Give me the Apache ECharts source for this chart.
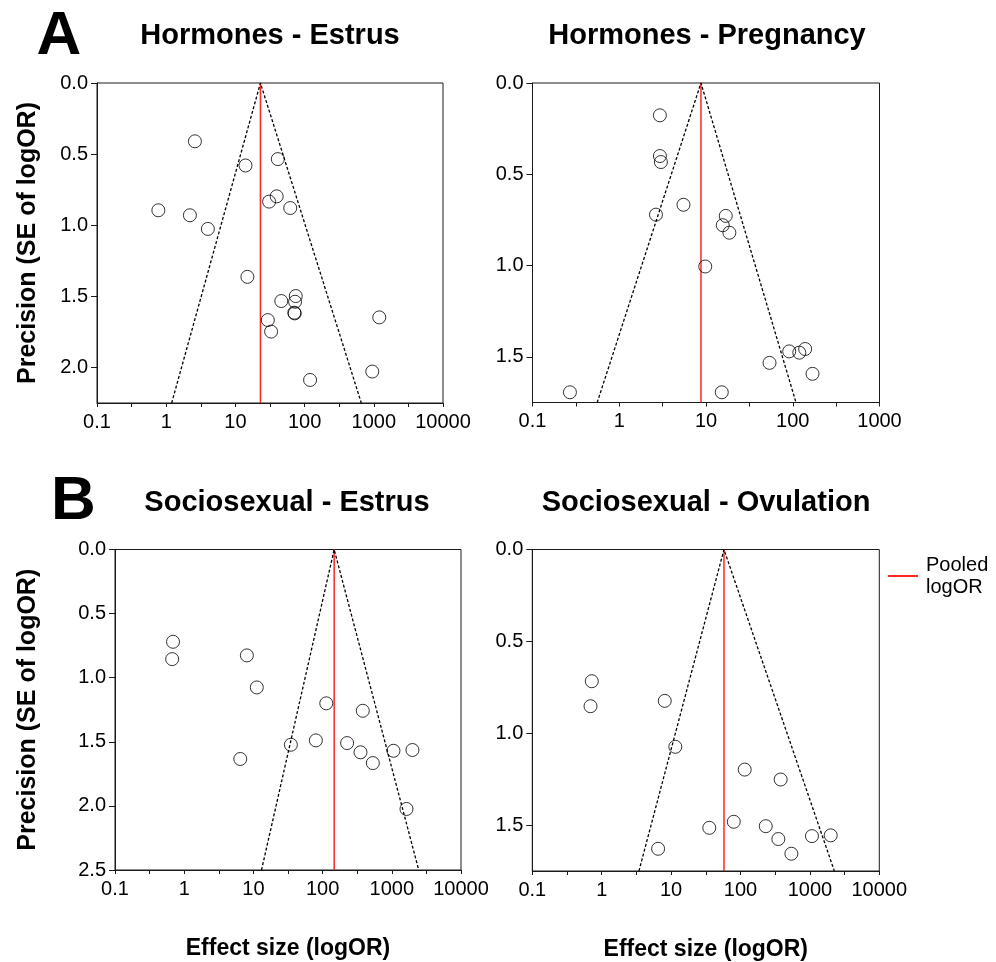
<!DOCTYPE html>
<html><head><meta charset="utf-8">
<script src="https://cdn.jsdelivr.net/npm/echarts@6/dist/echarts.min.js"></script>
<style>html,body{margin:0;padding:0;background:#fff}#c{width:996px;height:962px}</style>
</head><body><div id="c"></div>
<script>
const FONT = '"Liberation Sans", Arial, Helvetica, sans-serif';
const panelTitles = ['Hormones - Estrus', 'Hormones - Pregnancy', 'Sociosexual - Estrus', 'Sociosexual - Ovulation'];
const panelLetters = ['A', 'B'];
const yAxisTitle = 'Precision (SE of logOR)';
const xAxisTitle = 'Effect size (logOR)';
const legendName = 'Pooled\nlogOR';

// Hormones - Estrus
const hormEstrusES = [2.6, 14, 41, 0.77, 2.2, 4.0, 30.7, 39.5, 62, 14.9, 46, 74.5, 72.8, 71, 72, 29.4, 32.8, 1200, 950, 120];
const hormEstrusSE = [0.41, 0.58, 0.535, 0.895, 0.93, 1.026, 0.834, 0.797, 0.879, 1.363, 1.533, 1.498, 1.538, 1.615, 1.62, 1.667, 1.748, 1.648, 2.029, 2.088];
// Hormones - Pregnancy
const hormPregES = [2.94, 2.94, 3.02, 5.5, 2.65, 16.9, 15.6, 18.6, 9.8, 54, 91, 119, 139, 169, 0.27, 15.2];
const hormPregSE = [0.177, 0.40, 0.433, 0.667, 0.721, 0.728, 0.779, 0.82, 1.005, 1.533, 1.47, 1.477, 1.457, 1.593, 1.694, 1.694];
// Sociosexual - Estrus
const sociEstrusES = [0.69, 0.67, 8.05, 11.2, 113, 381, 34.8, 80, 226, 353, 532, 1057, 1988, 6.46, 1630];
const sociEstrusSE = [0.72, 0.855, 0.826, 1.076, 1.20, 1.258, 1.523, 1.489, 1.51, 1.582, 1.666, 1.57, 1.564, 1.634, 2.024];
// Sociosexual - Ovulation
const sociOvES = [0.72, 0.69, 8.1, 11.5, 115, 379, 35.5, 80, 231, 351, 541, 1070, 1995, 6.5];
const sociOvSE = [0.717, 0.853, 0.824, 1.074, 1.198, 1.252, 1.515, 1.482, 1.506, 1.576, 1.656, 1.56, 1.556, 1.629];

const pooledOR = [23, 8.75, 147, 57.8];
const funnelLowOR = [1.2, 0.557, 13.1, 3.44];
const funnelHighOR = [660, 109, 2450, 2250];
const xMin = [0.1, 0.1, 0.1, 0.1];
const xMax = [10000, 1000, 10000, 10000];
const yMax = [2.25, 1.75, 2.5, 1.75];

const panelES = [hormEstrusES, hormPregES, sociEstrusES, sociOvES];
const panelSE = [hormEstrusSE, hormPregSE, sociEstrusSE, sociOvSE];

const grids = [
  {left: 97, top: 83, width: 346, height: 320},
  {left: 532.5, top: 83, width: 347, height: 319.5},
  {left: 115, top: 549.5, width: 346, height: 320.5},
  {left: 532.3, top: 549.5, width: 347, height: 321.5}
];
const yNameGap = [56, 0, 74, 0];
const titlePos = [[270, 36], [707, 36], [287, 503], [706, 503]];
const letterPos = [[59, 37], [73.5, 502]];

const RED = '#ff2626';
const AXC = '#1a1a1a';

const option = {
  animation: false,
  backgroundColor: '#fff',
  textStyle: {fontFamily: FONT},
  grid: grids.map(g => Object.assign({show: true, borderColor: AXC, borderWidth: 1, backgroundColor: 'transparent', containLabel: false}, g)),
  xAxis: [],
  yAxis: [],
  series: [],
  legend: {
    data: [{name: legendName, icon: 'rect'}],
    left: 883, top: 549, itemWidth: 30, itemHeight: 2, selectedMode: false,
    textStyle: {fontFamily: FONT, fontSize: 20, lineHeight: 22, color: '#000', padding: [0, 0, 0, 3]}
  },
  graphic: []
};

for (let i = 0; i < 4; i++) {
  const bottomRow = i >= 2;
  const leftCol = i % 2 === 0;
  // main log axis (labels, line)
  option.xAxis.push({
    type: 'log', logBase: 10, gridIndex: i, min: xMin[i], max: xMax[i], position: 'bottom',
    axisLine: {show: true, onZero: false, lineStyle: {color: AXC, width: 1}},
    axisTick: {show: false},
    splitLine: {show: false},
    axisLabel: {color: '#000', fontSize: 20, fontFamily: FONT, margin: 9,
      formatter: v => (v < 1 ? (+v).toFixed(1) : String(Math.round(v)))},
    name: bottomRow ? xAxisTitle : '', nameLocation: 'middle', nameGap: 67,
    nameTextStyle: {fontSize: 23, fontWeight: 'bold', color: '#000', fontFamily: FONT}
  });
  // tick-only axis at half decades
  option.xAxis.push({
    type: 'value', gridIndex: i, min: Math.log10(xMin[i]), max: Math.log10(xMax[i]), interval: 0.5, position: 'bottom',
    axisLine: {show: false, onZero: false}, axisLabel: {show: false}, splitLine: {show: false},
    axisTick: {show: true, length: 4, lineStyle: {color: AXC, width: 1}}
  });
  option.yAxis.push({
    type: 'value', gridIndex: i, inverse: true, min: 0, max: yMax[i], interval: 0.5, position: 'left',
    axisLine: {show: true, onZero: false, lineStyle: {color: AXC, width: 1}},
    axisTick: {show: true, length: 6, lineStyle: {color: AXC, width: 1}},
    splitLine: {show: false},
    axisLabel: {color: '#000', fontSize: 20, fontFamily: FONT, margin: 9,
      showMaxLabel: Math.abs(yMax[i] / 0.5 - Math.round(yMax[i] / 0.5)) < 1e-9,
      formatter: v => (+v).toFixed(1)},
    name: leftCol ? yAxisTitle : '', nameLocation: 'middle', nameGap: yNameGap[i], nameRotate: 90,
    nameTextStyle: {fontSize: 25, fontWeight: 'bold', color: '#000', fontFamily: FONT}
  });
  const xi = i * 2;
  option.series.push({
    type: 'line', name: legendName, xAxisIndex: xi, yAxisIndex: i, symbol: 'none',
    color: RED, itemStyle: {color: RED},
    lineStyle: {color: RED, width: 1.5},
    data: [[pooledOR[i], 0], [pooledOR[i], yMax[i]]], z: 3, silent: true
  });
  option.series.push({
    type: 'line', name: 'funnel', xAxisIndex: xi, yAxisIndex: i, symbol: 'none',
    lineStyle: {color: '#000', width: 1.3, type: [3, 2]},
    data: [[funnelLowOR[i], yMax[i]], [pooledOR[i], 0], [funnelHighOR[i], yMax[i]]], z: 3, silent: true
  });
  option.series.push({
    type: 'scatter', name: panelTitles[i], xAxisIndex: xi, yAxisIndex: i, clip: true,
    symbol: 'circle', symbolSize: 13,
    itemStyle: {color: 'rgba(255,255,255,0)', borderColor: '#000', borderWidth: 1},
    data: panelES[i].map((x, k) => [x, panelSE[i][k]]), z: 4, silent: true
  });
  option.graphic.push({
    type: 'text', x: titlePos[i][0], y: titlePos[i][1],
    style: {text: panelTitles[i], font: 'bold 29px ' + FONT, fill: '#000', textAlign: 'center', textVerticalAlign: 'middle'}
  });
}
panelLetters.forEach((L, k) => {
  option.graphic.push({
    type: 'text', x: letterPos[k][0], y: letterPos[k][1],
    style: {text: L, font: 'bold 62px ' + FONT, fill: '#000', textAlign: 'center', textVerticalAlign: 'middle'}
  });
});

const chart = echarts.init(document.getElementById('c'), null, {renderer: 'canvas'});
chart.setOption(option);
</script>
</body></html>
